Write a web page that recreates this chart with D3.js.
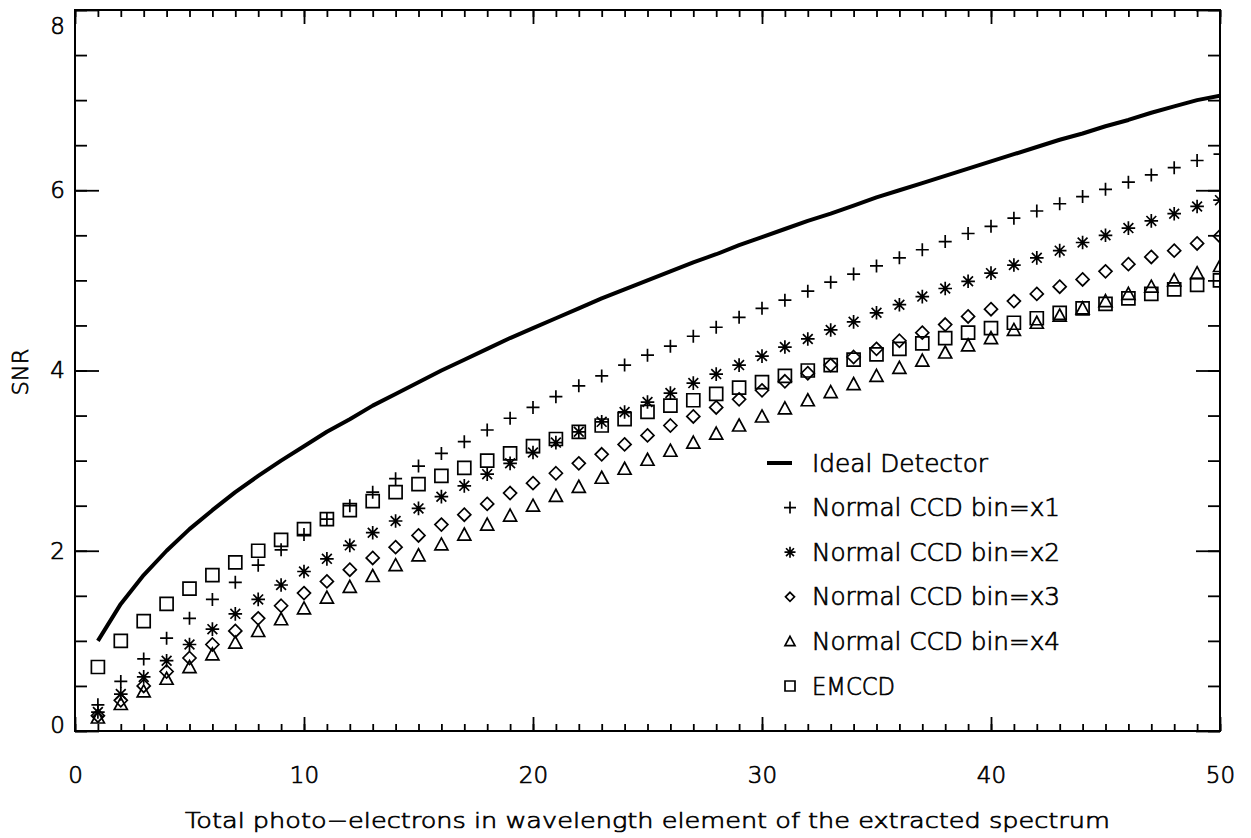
<!DOCTYPE html>
<html>
<head>
<meta charset="utf-8">
<script src="https://cdn.jsdelivr.net/npm/d3@7"></script>
<style>
  body { margin: 0; background: #fff; }
  text { font-family: "DejaVu Sans ExtraLight", "DejaVu Sans", sans-serif; font-weight: 200; fill: #000; stroke: #000; stroke-width: 0.7px; }
</style>
</head>
<body>
<div id="scatter"></div>
<script>
// data, photo-electrons 1..50
const electrons = d3.range(1, 51);

const ideal = [1.00, 1.41, 1.73, 2.00, 2.24, 2.45, 2.65, 2.83, 3.00, 3.16,
  3.32, 3.46, 3.61, 3.74, 3.87, 4.00, 4.12, 4.24, 4.36, 4.47,
  4.58, 4.69, 4.80, 4.90, 5.00, 5.10, 5.20, 5.29, 5.39, 5.48,
  5.57, 5.66, 5.74, 5.83, 5.92, 6.00, 6.08, 6.16, 6.24, 6.32,
  6.40, 6.48, 6.56, 6.63, 6.71, 6.78, 6.86, 6.93, 7.00, 7.05];

const ccdBin1 = [0.29, 0.55, 0.80, 1.03, 1.25, 1.46, 1.65, 1.84, 2.01, 2.18,
  2.35, 2.50, 2.65, 2.80, 2.94, 3.08, 3.21, 3.34, 3.47, 3.59,
  3.71, 3.83, 3.94, 4.06, 4.17, 4.27, 4.38, 4.48, 4.59, 4.69,
  4.78, 4.88, 4.98, 5.07, 5.16, 5.25, 5.34, 5.43, 5.52, 5.60,
  5.69, 5.77, 5.85, 5.93, 6.01, 6.09, 6.17, 6.25, 6.33, 6.40];

const ccdBin2 = [0.21, 0.41, 0.60, 0.78, 0.96, 1.13, 1.30, 1.46, 1.62, 1.77,
  1.91, 2.06, 2.20, 2.33, 2.47, 2.60, 2.72, 2.85, 2.97, 3.09,
  3.20, 3.32, 3.43, 3.54, 3.65, 3.75, 3.86, 3.96, 4.06, 4.16,
  4.26, 4.35, 4.45, 4.54, 4.64, 4.73, 4.82, 4.91, 4.99, 5.08,
  5.17, 5.25, 5.33, 5.42, 5.50, 5.58, 5.66, 5.74, 5.82, 5.89];

const ccdBin3 = [0.17, 0.34, 0.50, 0.66, 0.81, 0.96, 1.11, 1.25, 1.39, 1.53,
  1.66, 1.79, 1.92, 2.04, 2.17, 2.29, 2.40, 2.52, 2.64, 2.75,
  2.86, 2.97, 3.07, 3.18, 3.28, 3.39, 3.49, 3.59, 3.68, 3.78,
  3.88, 3.97, 4.06, 4.15, 4.24, 4.33, 4.42, 4.51, 4.60, 4.68,
  4.77, 4.85, 4.93, 5.01, 5.10, 5.18, 5.26, 5.33, 5.41, 5.49];

const ccdBin4 = [0.15, 0.30, 0.44, 0.58, 0.71, 0.85, 0.98, 1.11, 1.24, 1.36,
  1.48, 1.60, 1.72, 1.84, 1.95, 2.07, 2.18, 2.29, 2.39, 2.50,
  2.61, 2.71, 2.81, 2.91, 3.01, 3.11, 3.20, 3.30, 3.39, 3.49,
  3.58, 3.67, 3.76, 3.85, 3.94, 4.03, 4.11, 4.20, 4.28, 4.36,
  4.45, 4.53, 4.61, 4.69, 4.77, 4.85, 4.93, 5.00, 5.08, 5.16];

const emccd = [0.71, 1.00, 1.22, 1.41, 1.58, 1.73, 1.87, 2.00, 2.12, 2.24,
  2.35, 2.45, 2.55, 2.65, 2.74, 2.83, 2.92, 3.00, 3.08, 3.16,
  3.24, 3.32, 3.39, 3.46, 3.54, 3.61, 3.67, 3.74, 3.81, 3.87,
  3.94, 4.00, 4.06, 4.12, 4.18, 4.24, 4.30, 4.36, 4.42, 4.47,
  4.53, 4.58, 4.64, 4.69, 4.74, 4.80, 4.85, 4.90, 4.95, 5.00];

const xMajorTicks = [0, 10, 20, 30, 40, 50];
const yMajorTicks = [0, 2, 4, 6, 8];

const legendLabels = ["Ideal Detector", "Normal CCD bin=x1", "Normal CCD bin=x2",
  "Normal CCD bin=x3", "Normal CCD bin=x4", "EMCCD"];

//chart set up
const svgWidth = 1251;
const svgHeight = 838;
const margin = { top: 10, right: 31, bottom: 107, left: 75 };
const width = svgWidth - margin.left - margin.right;
const height = svgHeight - margin.top - margin.bottom;

const svg = d3.select("#scatter")
  .append("svg")
  .attr("width", svgWidth)
  .attr("height", svgHeight);

const chartGroup = svg.append("g")
  .attr("transform", `translate(${margin.left}, ${margin.top})`);

const xScale = d3.scaleLinear().domain([0, 50]).range([0, width]);
const yScale = d3.scaleLinear().domain([0, 8]).range([height, 0]);

// symbol paths (IDL psym look-alikes)
const symbols = {
  plus: s => `M${-s},0H${s}M0,${-s}V${s}`,
  star: s => {
    const d = s * 0.72;
    return `M${-s},0H${s}M0,${-s}V${s}M${-d},${-d}L${d},${d}M${-d},${d}L${d},${-d}`;
  },
  diamond: s => `M0,${-s}L${s},0L0,${s}L${-s},0Z`,
  triangle: s => `M0,${-s}L${s},${s * 0.85}L${-s},${s * 0.85}Z`,
  square: s => `M${-s},${-s}H${s}V${s}H${-s}Z`
};

const series = [
  { values: ccdBin1, sym: "plus", size: 6.5, legSize: 6 },
  { values: ccdBin2, sym: "star", size: 6.8, legSize: 5.5 },
  { values: ccdBin3, sym: "diamond", size: 6.5, legSize: 4.5 },
  { values: ccdBin4, sym: "triangle", size: 6.5, legSize: 5 },
  { values: emccd, sym: "square", size: 6.5, legSize: 5 }
];

// clip to plot area like the original
svg.append("defs").append("clipPath")
  .attr("id", "plotClip")
  .append("rect")
  .attr("width", width)
  .attr("height", height);

const plotArea = chartGroup.append("g").attr("clip-path", "url(#plotClip)");

// ideal detector line
plotArea.append("path")
  .datum(electrons)
  .attr("fill", "none")
  .attr("stroke", "#000")
  .attr("stroke-width", 4)
  .attr("stroke-linejoin", "round")
  .attr("d", d3.line()
    .x(d => xScale(d))
    .y((d, i) => yScale(ideal[i])));

// markers
series.forEach(s => {
  plotArea.append("g")
    .selectAll("path")
    .data(s.values)
    .enter()
    .append("path")
    .attr("transform", (d, i) => `translate(${xScale(electrons[i])}, ${yScale(d)})`)
    .attr("d", symbols[s.sym](s.size))
    .attr("fill", "none")
    .attr("stroke", "#000")
    .attr("stroke-width", 1.7);
});

// axes: minor + major ticks, mirrored on top and right
function styleAxis(g) {
  g.select(".domain").remove();
  g.selectAll("line").attr("stroke", "#000").attr("stroke-width", 1.8);
}

chartGroup.append("g")
  .attr("transform", `translate(0, ${height})`)
  .call(d3.axisBottom(xScale).tickValues(d3.range(0, 51)).tickSize(-7).tickFormat(""))
  .call(styleAxis);

chartGroup.append("g")
  .attr("transform", `translate(0, ${height})`)
  .call(d3.axisBottom(xScale).tickValues(xMajorTicks).tickSize(-14).tickPadding(36))
  .call(styleAxis)
  .selectAll("text")
  .style("font-size", "23px");

chartGroup.append("g")
  .call(d3.axisTop(xScale).tickValues(d3.range(0, 51)).tickSize(-7).tickFormat(""))
  .call(styleAxis);

chartGroup.append("g")
  .call(d3.axisTop(xScale).tickValues(xMajorTicks).tickSize(-14).tickFormat(""))
  .call(styleAxis);

chartGroup.append("g")
  .call(d3.axisLeft(yScale).tickValues(d3.range(0, 8.01, 0.5)).tickSize(-12).tickFormat(""))
  .call(styleAxis);

const yAxis = chartGroup.append("g")
  .call(d3.axisLeft(yScale).tickValues(yMajorTicks).tickSize(-24).tickPadding(10))
  .call(styleAxis);

yAxis.selectAll("text")
  .style("font-size", "23px")
  .attr("y", d => d === 0 ? -6 : (d === 8 ? 16 : 0));

chartGroup.append("g")
  .attr("transform", `translate(${width}, 0)`)
  .call(d3.axisRight(yScale).tickValues(d3.range(0, 8.01, 0.5)).tickSize(-12).tickFormat(""))
  .call(styleAxis);

chartGroup.append("g")
  .attr("transform", `translate(${width}, 0)`)
  .call(d3.axisRight(yScale).tickValues(yMajorTicks).tickSize(-24).tickFormat(""))
  .call(styleAxis);

// frame
chartGroup.append("rect")
  .attr("width", width)
  .attr("height", height)
  .attr("fill", "none")
  .attr("stroke", "#000")
  .attr("stroke-width", 2);

// axis labels
svg.append("text")
  .attr("x", margin.left + width / 2)
  .attr("y", 828)
  .attr("text-anchor", "middle")
  .attr("textLength", 925)
  .attr("lengthAdjust", "spacingAndGlyphs")
  .style("font-size", "22px")
  .text("Total photo\u2212electrons in wavelength element of the extracted spectrum");

svg.append("text")
  .attr("transform", "translate(28, 372) rotate(-90)")
  .attr("text-anchor", "middle")
  .attr("textLength", 47)
  .attr("lengthAdjust", "spacingAndGlyphs")
  .style("font-size", "22px")
  .text("SNR");

// legend
const legendX = 790;
const legendTop = 463;
const legendStep = 44.6;
const legend = svg.append("g");

legend.append("line")
  .attr("x1", 767).attr("x2", 792)
  .attr("y1", legendTop).attr("y2", legendTop)
  .attr("stroke", "#000")
  .attr("stroke-width", 4);

series.forEach((s, i) => {
  legend.append("path")
    .attr("transform", `translate(${legendX}, ${legendTop + (i + 1) * legendStep})`)
    .attr("d", symbols[s.sym](s.legSize))
    .attr("fill", "none")
    .attr("stroke", "#000")
    .attr("stroke-width", 1.7);
});

const legendWidths = [176, 248, 248, 248, 248, 83];
legend.selectAll(".legText")
  .data(legendLabels)
  .enter()
  .append("text")
  .attr("class", "legText")
  .attr("x", 812)
  .attr("y", (d, i) => legendTop + i * legendStep)
  .attr("dy", "0.36em")
  .attr("textLength", (d, i) => legendWidths[i])
  .attr("lengthAdjust", "spacingAndGlyphs")
  .style("font-size", "24px")
  .text(d => d);
</script>
</body>
</html>
